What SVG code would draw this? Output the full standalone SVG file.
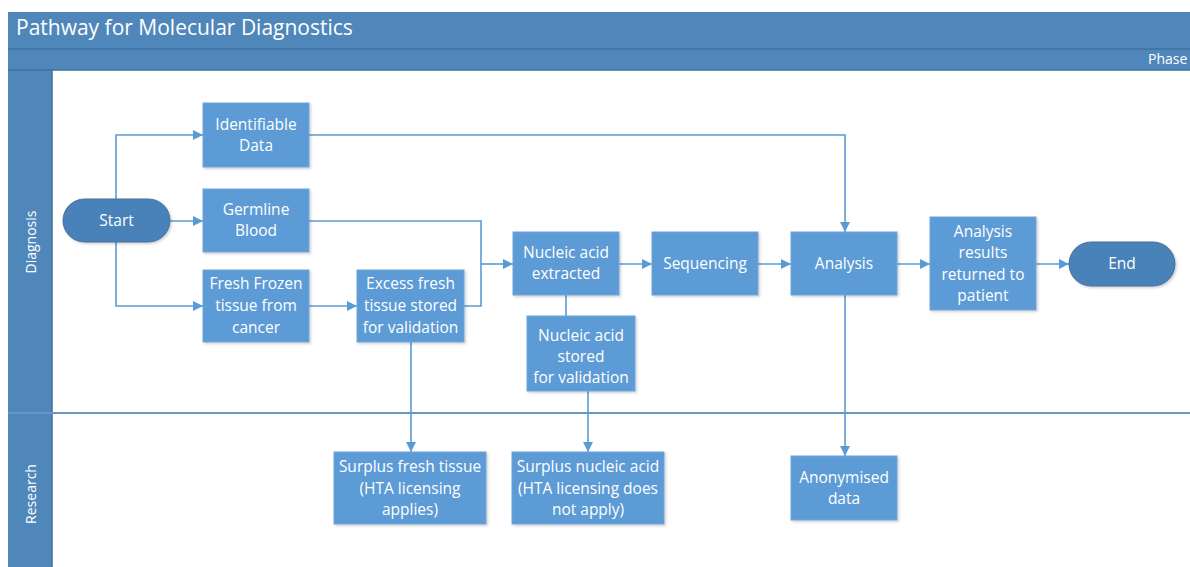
<svg xmlns="http://www.w3.org/2000/svg" width="1190" height="567" viewBox="0 0 1190 567">
  <style>
    .bar { fill: #4f87bb; }
    .sep { stroke: #41719c; stroke-width: 1.5; fill: none; }
    .lane-line { stroke: #6a96c4; stroke-width: 2; fill: none; }
    .box { fill: #5b9bd5; stroke: #6ea6da; stroke-width: 1; filter: url(#shadow); }
    .pill { fill: #4a82b9; stroke: #41719c; stroke-width: 1; filter: url(#shadow); }
    .label { fill: #ffffff; font-family: "Open Sans", "Liberation Sans", sans-serif; font-size: 15.5px; text-anchor: middle; }
    .title { fill: #ffffff; font-family: "Open Sans", "Liberation Sans", sans-serif; font-size: 21px; }
    .lane { fill: #ffffff; font-family: "Open Sans", "Liberation Sans", sans-serif; font-size: 14px; text-anchor: middle; }
    .conn { stroke: #5b9bd5; stroke-width: 1.6; fill: none; }
    .arrow { stroke: #5b9bd5; stroke-width: 1.6; fill: none; marker-end: url(#head); }
  </style>
  <defs>
    <marker id="head" viewBox="0 0 10 10" refX="10" refY="5" markerWidth="6.5" markerHeight="6.5" markerUnits="strokeWidth" orient="auto">
      <path d="M0,0 L10,5 L0,10 Z" fill="#5b9bd5"/>
    </marker>
    <filter id="shadow" x="-10%" y="-10%" width="130%" height="130%">
      <feDropShadow dx="1.5" dy="1.5" stdDeviation="1.2" flood-color="#000000" flood-opacity="0.18"/>
    </filter>
  </defs>

  <rect width="1190" height="567" fill="#ffffff"/>

  <!-- pool frame: title bar, phase bar, lane header column -->
  <g id="pool">
    <rect class="bar" x="8" y="12" width="1190" height="58"/>
    <rect class="bar" x="8" y="70" width="44" height="510"/>
    <line class="sep" x1="8" y1="49" x2="1190" y2="49"/>
    <line class="sep" x1="8" y1="70" x2="1190" y2="70"/>
    <line class="sep" x1="52" y1="70" x2="52" y2="567"/>
    <line class="lane-line" x1="8" y1="413" x2="1190" y2="413"/>
    <text class="title" x="16" y="35">Pathway for Molecular Diagnostics</text>
    <text class="lane" x="1148" y="64" style="text-anchor:start">Phase</text>
    <text class="lane" transform="translate(36,242) rotate(-90)">Diagnosis</text>
    <text class="lane" transform="translate(36,494) rotate(-90)">Research</text>
  </g>

  <!-- connectors -->
  <g id="connectors">
    <path class="arrow" d="M116,199 V135 H203"/>
    <path class="arrow" d="M170,221 H203"/>
    <path class="arrow" d="M116,242 V306 H203"/>
    <path class="arrow" d="M309,135 H845 V232"/>
    <path class="conn" d="M309,221 H481 V306 H464"/>
    <path class="arrow" d="M481,264 H513"/>
    <path class="arrow" d="M309,306 H357"/>
    <path class="arrow" d="M411,342 V452"/>
    <path class="conn" d="M566,295 V316"/>
    <path class="arrow" d="M588,391 V452"/>
    <path class="arrow" d="M619,264 H652"/>
    <path class="arrow" d="M758,264 H791"/>
    <path class="arrow" d="M897,264 H930"/>
    <path class="arrow" d="M1036,264 H1069"/>
    <path class="arrow" d="M845,295 V456"/>
  </g>

  <g id="start">
    <rect class="pill" x="63" y="199" width="107" height="43" rx="21.5"/>
    <text class="label" x="116.5" y="226">Start</text>
  </g>
  <g id="identifiable-data">
    <rect class="box" x="203" y="103" width="106" height="64"/>
    <text class="label" x="256" y="130">Identifiable<tspan x="256" dy="21">Data</tspan></text>
  </g>
  <g id="germline-blood">
    <rect class="box" x="203" y="189" width="106" height="63"/>
    <text class="label" x="256" y="215">Germline<tspan x="256" dy="21">Blood</tspan></text>
  </g>
  <g id="fresh-frozen">
    <rect class="box" x="203" y="270" width="106" height="72"/>
    <text class="label" x="256" y="289">Fresh Frozen<tspan x="256" dy="22">tissue from</tspan><tspan x="256" dy="22">cancer</tspan></text>
  </g>
  <g id="excess-fresh">
    <rect class="box" x="357" y="270" width="107" height="72"/>
    <text class="label" x="410.5" y="289">Excess fresh<tspan x="410.5" dy="22">tissue stored</tspan><tspan x="410.5" dy="22">for validation</tspan></text>
  </g>
  <g id="nucleic-extracted">
    <rect class="box" x="513" y="232" width="106" height="63"/>
    <text class="label" x="566" y="258">Nucleic acid<tspan x="566" dy="21">extracted</tspan></text>
  </g>
  <g id="nucleic-stored">
    <rect class="box" x="527" y="316" width="108" height="75"/>
    <text class="label" x="581" y="341">Nucleic acid<tspan x="581" dy="21">stored</tspan><tspan x="581" dy="21">for validation</tspan></text>
  </g>
  <g id="sequencing">
    <rect class="box" x="652" y="232" width="106" height="63"/>
    <text class="label" x="705" y="269">Sequencing</text>
  </g>
  <g id="analysis">
    <rect class="box" x="791" y="232" width="106" height="63"/>
    <text class="label" x="844" y="269">Analysis</text>
  </g>
  <g id="results-returned">
    <rect class="box" x="930" y="217" width="106" height="93"/>
    <text class="label" x="983" y="237">Analysis<tspan x="983" dy="21.3">results</tspan><tspan x="983" dy="21.3">returned to</tspan><tspan x="983" dy="21.3">patient</tspan></text>
  </g>
  <g id="end">
    <rect class="pill" x="1069" y="242" width="106" height="44" rx="22"/>
    <text class="label" x="1122" y="269">End</text>
  </g>
  <g id="surplus-tissue">
    <rect class="box" x="334" y="452" width="152" height="72"/>
    <text class="label" x="410" y="472">Surplus fresh tissue<tspan x="410" dy="21.5">(HTA licensing</tspan><tspan x="410" dy="21.5">applies)</tspan></text>
  </g>
  <g id="surplus-nucleic">
    <rect class="box" x="512" y="452" width="152" height="72"/>
    <text class="label" x="588" y="472">Surplus nucleic acid<tspan x="588" dy="21.5">(HTA licensing does</tspan><tspan x="588" dy="21.5">not apply)</tspan></text>
  </g>
  <g id="anonymised">
    <rect class="box" x="791" y="456" width="106" height="64"/>
    <text class="label" x="844" y="483">Anonymised<tspan x="844" dy="21">data</tspan></text>
  </g>
</svg>
